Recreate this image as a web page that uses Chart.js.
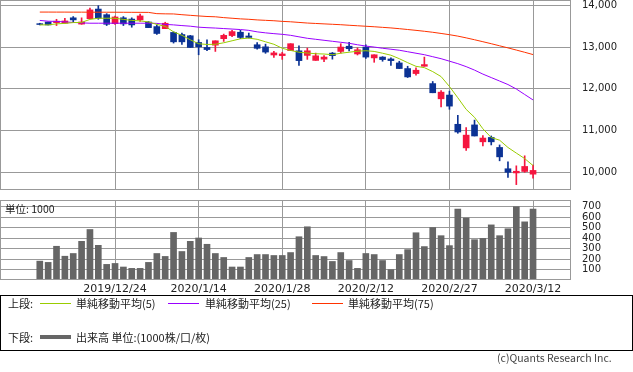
<!DOCTYPE html>
<html lang="ja">
<head>
<meta charset="UTF-8">
<title>株価チャート</title>
<script src="https://cdn.jsdelivr.net/npm/chart.js"></script>
<style>
    body { margin: 0; background: #fff; width: 633px; height: 372px; position: relative; overflow: hidden;
           font-family: "Noto Sans CJK JP", sans-serif; color: #222; }
    canvas { position: absolute; left: 0; }
    #priceChart { top: 0; }
    #volumeChart { top: 191px; }
    .txt { position: absolute; font-size: 11px; line-height: 14px; white-space: nowrap; }
    .sample { position: absolute; height: 0; border-top: 1px solid; }
    #legendBox { position: absolute; left: 0; top: 295px; width: 631px; height: 54px; border: 1px solid #000; }
</style>
</head>
<body>
<canvas id="priceChart" width="633" height="191"></canvas>
<canvas id="volumeChart" width="633" height="105"></canvas>
<div class="txt" style="left:5px; top:202px; font-size:10.5px;">単位: 1000</div>

<div id="legendBox"></div>
<div class="txt" style="left:8px; top:296px;">上段:</div>
<div class="sample" style="left:40px; width:31px; top:303px; border-color:#99cc00;"></div>
<div class="txt" style="left:76px; top:296px;">単純移動平均(5)</div>
<div class="sample" style="left:168px; width:31px; top:303px; border-color:#9900ff;"></div>
<div class="txt" style="left:205px; top:296px;">単純移動平均(25)</div>
<div class="sample" style="left:312px; width:31px; top:303px; border-color:#ff3300;"></div>
<div class="txt" style="left:348px; top:296px;">単純移動平均(75)</div>
<div class="txt" style="left:8px; top:330px;">下段:</div>
<div class="sample" style="left:40px; width:31px; top:335px; border-top-width:4px; border-color:#666;"></div>
<div class="txt" style="left:76px; top:330px;">出来高 単位:(1000株/口/枚)</div>
<div class="txt" style="left:497px; top:351px; font-size:10.5px; color:#444;">(c)Quants Research Inc.</div>

<script>
// 日付 (営業日)
const dates = ['2019/12/11','2019/12/12','2019/12/13','2019/12/16','2019/12/17','2019/12/18','2019/12/19','2019/12/20','2019/12/23','2019/12/24',
    '2019/12/25','2019/12/26','2019/12/27','2019/12/30','2020/1/6','2020/1/7','2020/1/8','2020/1/9','2020/1/10','2020/1/14',
    '2020/1/15','2020/1/16','2020/1/17','2020/1/20','2020/1/21','2020/1/22','2020/1/23','2020/1/24','2020/1/27','2020/1/28',
    '2020/1/29','2020/1/30','2020/1/31','2020/2/3','2020/2/4','2020/2/5','2020/2/6','2020/2/7','2020/2/10','2020/2/12',
    '2020/2/13','2020/2/14','2020/2/17','2020/2/18','2020/2/19','2020/2/20','2020/2/21','2020/2/25','2020/2/26','2020/2/27',
    '2020/2/28','2020/3/2','2020/3/3','2020/3/4','2020/3/5','2020/3/6','2020/3/9','2020/3/10','2020/3/11','2020/3/12'];

// 四本値
const opens = [13560,13600,13585,13570,13700,13550,13680,13910,13775,13560,
    13700,13670,13650,13600,13490,13440,13350,13300,13270,13110,
    12990,13045,13200,13275,13355,13265,13055,13005,12810,12795,
    12915,12910,12800,12680,12710,12855,12895,13020,12835,13000,
    12740,12760,12715,12620,12485,12365,12540,12125,11760,11850,
    11150,10585,11135,10730,10835,10595,10085,9985,10020,9955];
const highs = [13570,13600,13665,13690,13730,13700,13935,13990,13800,13740,
    13730,13700,13790,13610,13530,13595,13365,13335,13280,13175,
    13175,13150,13310,13400,13400,13335,13110,13070,12895,12875,
    13080,13030,12975,12855,12795,12870,13080,13115,12980,13055,
    12815,12770,12740,12660,12540,12500,12760,12175,11960,11945,
    11365,11070,11250,10880,10870,10655,10250,10155,10395,10170];
const lows = [13530,13530,13515,13570,13585,13545,13680,13665,13515,13545,
    13515,13475,13615,13465,13300,13440,13095,13060,12990,12815,
    12915,12895,13135,13250,13200,13215,12950,12850,12750,12705,
    12915,12560,12705,12680,12650,12710,12855,12910,12810,12730,
    12635,12660,12560,12485,12270,12325,12540,11905,11565,11510,
    10935,10525,10870,10630,10655,10275,9880,9705,10000,9860];
const closes = [13540,13530,13620,13625,13650,13600,13890,13690,13545,13720,
    13555,13530,13745,13465,13325,13570,13125,13125,12990,13005,
    12940,13150,13280,13370,13230,13230,12970,12880,12860,12835,
    13080,12675,12910,12790,12760,12795,13000,12960,12935,12760,
    12815,12700,12675,12485,12285,12445,12580,11905,11920,11585,
    10965,10890,10870,10820,10730,10370,10000,10025,10140,10045];

// 移動平均
const ma5 = [13531,13531,13555,13567,13586,13590,13662,13690,13690,13690,
    13662,13638,13626,13602,13543,13495,13364,13281,13174,13079,
    13062,13067,13102,13150,13198,13214,13186,13126,13067,12971,
    12919,12876,12857,12840,12833,12817,12852,12876,12900,12912,
    12895,12852,12805,12721,12626,12538,12507,12412,12293,12055,
    11786,11507,11317,11043,10833,10769,10595,10460,10329,10162];
const ma25 = [13638,13619,13614,13602,13590,13579,13571,13571,13571,13571,
    13571,13571,13571,13571,13567,13543,13531,13514,13500,13476,
    13464,13455,13443,13431,13419,13400,13364,13340,13321,13305,
    13281,13245,13210,13186,13162,13138,13114,13090,13055,13024,
    13000,12971,12948,12924,12888,12852,12817,12769,12721,12662,
    12602,12531,12448,12352,12269,12186,12102,11995,11864,11733];
const ma75 = [13838,13838,13837,13837,13836,13836,13835,13835,13834,13834,
    13833,13832,13831,13830,13800,13795,13793,13775,13760,13745,
    13732,13725,13705,13690,13675,13665,13650,13640,13630,13615,
    13605,13590,13575,13565,13555,13545,13535,13522,13510,13498,
    13486,13472,13458,13440,13420,13400,13378,13354,13326,13296,
    13262,13220,13175,13128,13080,13030,12980,12928,12875,12820];

// 出来高 (単位:1000)
const volumes = [180,168,322,227,253,369,482,331,149,158,
    124,111,111,168,253,225,454,272,369,401,
    341,253,215,124,124,215,243,243,234,234,
    262,413,508,234,224,177,262,186,111,253,
    243,186,99,243,290,451,319,501,423,328,
    677,592,385,397,526,423,489,700,555,677];

// 目盛り
const dateTickIdx = [9, 19, 29, 39, 49, 59];
const priceTicks = [10000, 11000, 12000, 13000, 14000];
const volumeTicks = [100, 200, 300, 400, 500, 600, 700];

const UP = '#f5163f', DOWN = '#0b3294', GRID = '#999999';
const X_MIN = -4.64, X_MAX = 63.54;

const candleColors = opens.map((o, i) => closes[i] >= o ? UP : DOWN);

// 枠線
const frame = {
    id: 'frame',
    afterDraw(chart) {
        const { ctx, chartArea: a } = chart;
        ctx.save();
        ctx.strokeStyle = GRID;
        ctx.lineWidth = 1;
        ctx.strokeRect(a.left - 0.5, a.top - 0.5, a.right - a.left, a.bottom - a.top);
        ctx.restore();
    }
};

function maLine(label, values, color) {
    return {
        type: 'line', label: label,
        data: values.map((v, i) => ({ x: i, y: v })),
        borderColor: color, borderWidth: 1, pointRadius: 0, order: 1
    };
}

new Chart(document.getElementById('priceChart'), {
    type: 'bar',
    data: {
        datasets: [
            maLine('単純移動平均(5)', ma5, '#99cc00'),
            maLine('単純移動平均(25)', ma25, '#9900ff'),
            maLine('単純移動平均(75)', ma75, '#ff3300'),
            {
                label: '実体', data: opens.map((o, i) => ({ x: i, y: [o, closes[i]] })),
                backgroundColor: candleColors, barThickness: 6, grouped: false, order: 2
            },
            {
                label: 'ヒゲ', data: lows.map((l, i) => ({ x: i, y: [l, highs[i]] })),
                backgroundColor: candleColors, barThickness: 1, grouped: false, order: 3
            }
        ]
    },
    options: {
        responsive: false,
        animation: false,
        layout: { padding: { top: 1, left: 1, right: 0, bottom: 1 } },
        plugins: { legend: { display: false }, tooltip: { enabled: false } },
        scales: {
            x: {
                type: 'linear', min: X_MIN, max: X_MAX, offset: false,
                afterBuildTicks: s => { s.ticks = dateTickIdx.map(v => ({ value: v })); },
                ticks: { display: false },
                grid: { color: GRID, drawTicks: false, offset: false },
                border: { display: false },
                afterFit: s => { s.height = 0; s.paddingLeft = 0; s.paddingRight = 0; }
            },
            y: {
                position: 'right', min: 9576, max: 14103,
                afterBuildTicks: s => { s.ticks = priceTicks.map(v => ({ value: v })); },
                ticks: {
                    padding: 11, color: '#222', autoSkip: false, font: { family: 'DejaVu Sans', size: 10 },
                    callback: v => v.toLocaleString('en-US')
                },
                grid: { color: GRID, drawTicks: false },
                border: { display: false },
                afterFit: s => { s.width = 62; s.paddingTop = 0; s.paddingBottom = 0; }
            }
        }
    },
    plugins: [frame]
});

new Chart(document.getElementById('volumeChart'), {
    type: 'bar',
    data: {
        datasets: [{
            label: '出来高', data: volumes.map((v, i) => ({ x: i, y: v })),
            backgroundColor: '#666666', barThickness: 6
        }]
    },
    options: {
        responsive: false,
        animation: false,
        layout: { padding: { top: 10, left: 1, right: 0, bottom: 0 } },
        plugins: { legend: { display: false }, tooltip: { enabled: false } },
        scales: {
            x: {
                type: 'linear', min: X_MIN, max: X_MAX, offset: false,
                afterBuildTicks: s => { s.ticks = dateTickIdx.map(v => ({ value: v })); },
                ticks: {
                    padding: 3, color: '#222', maxRotation: 0, autoSkip: false,
                    font: { family: 'DejaVu Sans', size: 11 },
                    callback: v => dates[v]
                },
                grid: { color: GRID, drawTicks: false, offset: false },
                border: { display: false },
                afterFit: s => { s.height = 16; s.paddingLeft = 0; s.paddingRight = 0; }
            },
            y: {
                position: 'right', min: 0, max: 754,
                afterBuildTicks: s => { s.ticks = volumeTicks.map(v => ({ value: v })); },
                ticks: { padding: 11, color: '#222', autoSkip: false, font: { family: 'DejaVu Sans', size: 10 } },
                grid: { color: GRID, drawTicks: false },
                border: { display: false },
                afterFit: s => { s.width = 62; s.paddingTop = 0; s.paddingBottom = 0; }
            }
        }
    },
    plugins: [frame]
});
</script>
</body>
</html>
